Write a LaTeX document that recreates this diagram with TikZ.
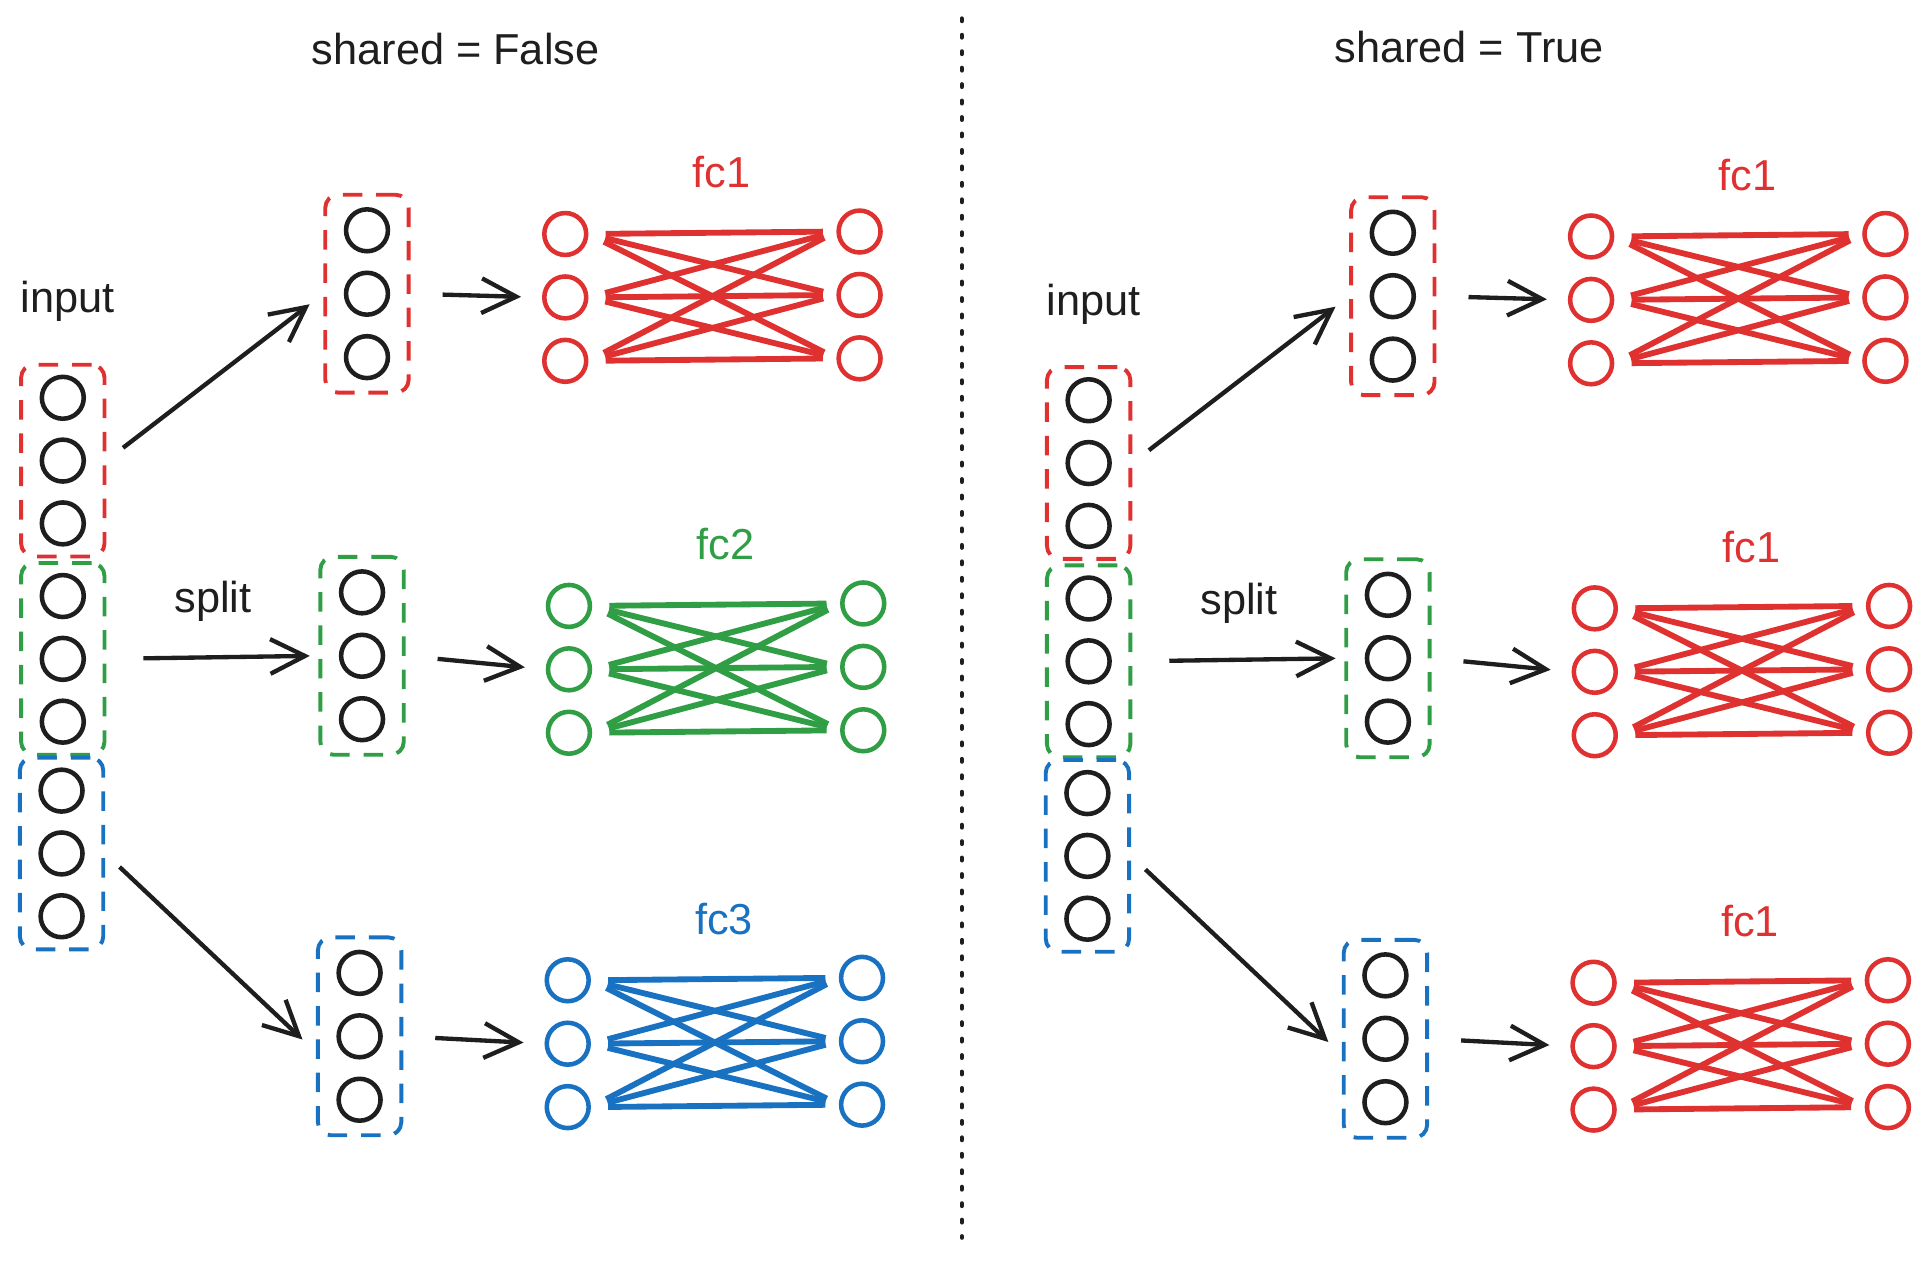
\documentclass[tikz,border=0pt]{standalone}
\usepackage{fontspec}
\setmainfont{Liberation Sans}
\usetikzlibrary{arrows.meta, fit}
\definecolor{xred}{HTML}{E03131}
\definecolor{xgreen}{HTML}{2F9E44}
\definecolor{xblue}{HTML}{1971C2}
\definecolor{xblack}{HTML}{1E1E1E}
\tikzset{%
	unit/.style={draw=xblack, circle, minimum size=3.4mm, inner sep=0mm, line width=1.05pt},
	grp/.style={draw, dash pattern=on 4.5pt off 3.2pt, rounded corners=3pt,%
		inner xsep=1.5mm, inner ysep=0.8mm, line width=0.9pt},
	arr/.style={-{Straight Barb[length=8pt,width=8pt]}, line width=1pt, draw=xblack},
	wire/.style={line width=1.35pt, shorten <=1.4mm, shorten >=1.1mm},
	lbl/.style={font=\fontsize{10}{12}\selectfont, text=xblack},
	sep/.style={draw=xblack, dash pattern=on 0.6pt off 3.2pt, line cap=round, line width=1pt}
}
\begin{document}
\begin{tikzpicture}[x=0.01cm, y=-0.01cm]
	\fill[white] (0,0) rectangle (1568,1030);
	\useasboundingbox (0,0) rectangle (1568,1030);
	\node[lbl] (tl) at (370,40)  {shared = False};
	\node[lbl] (tr) at (1193,38) {shared = True};
	\coordinate (st) at (781,15);
	\coordinate (sb) at (781,1005);
	\draw[sep] (st) -- (sb);
	\foreach \p/\dx/\dy/\cb/\cc/\nb/\nc in {L/0/0/xgreen/xblue/2/3, R/833/2/xred/xred/1/1} {
	\begin{scope}[shift={(\dx,\dy)}]
		% input column
		\node[lbl] (\p-in) at (55,245)  {input};
		\node[lbl] (\p-sp) at (173,488) {split};
		\foreach \i in {1,2,3} {
			\node[unit] (\p-ir\i) at (51,272+51*\i) {};
			\node[unit] (\p-ig\i) at (51,433+51*\i) {};
			\node[unit] (\p-ib\i) at (50,591+51*\i) {};
		}
		\node[grp, draw=xred,   fit=(\p-ir1)(\p-ir3)] (\p-Ir) {};
		\node[grp, draw=xgreen, fit=(\p-ig1)(\p-ig3)] (\p-Ig) {};
		\node[grp, draw=xblue,  fit=(\p-ib1)(\p-ib3)] (\p-Ib) {};
		% split columns and fc layers
		\foreach \l/\sx/\sy/\lx/\ly/\bc/\col/\lab in {r/298/187/459/190/xred/xred/1,%
				g/294/481/462/492/xgreen/\cb/\nb, b/292/790/461/796/xblue/\cc/\nc} {
			\foreach \i in {1,2,3} {
				\node[unit] (\p-s\l\i) at (\sx,\sy+51.5*\i-51.5) {};
				\node[unit, draw=\col] (\p\l-x\i) at (\lx,\ly+51.5*\i-51.5) {};
				\node[unit, draw=\col] (\p\l-y\i) at (\lx+239,\ly+51.5*\i-53.5) {};
			}
			\node[grp, draw=\bc, inner ysep=1mm, fit=(\p-s\l1)(\p-s\l3)] (\p-S\l) {};
			\node[lbl, text=\col] (\p\l-fc) at (\lx+127,\ly-50) {fc\lab};
			\draw[arr, shorten <=2.6mm, shorten >=1.7mm] (\p-S\l.east) -- (\p\l-x2.west);
			\foreach \i in {1,2,3}
				\foreach \j in {1,2,3}
					\draw[wire, draw=\col] (\p\l-x\i.east) -- (\p\l-y\j.west);
		}
		\draw[arr, shorten <=1.7mm, shorten >=1.4mm] (\p-Ir.east) -- (\p-Sr.west);
		\draw[arr, shorten <=3mm, shorten >=0.7mm]   (\p-Ig.east) -- (\p-Sg.west);
		\draw[arr, shorten <=1.6mm, shorten >=1.5mm] (\p-Ib.east) -- (\p-Sb.200);
	\end{scope}
	}
\end{tikzpicture}
\end{document}
